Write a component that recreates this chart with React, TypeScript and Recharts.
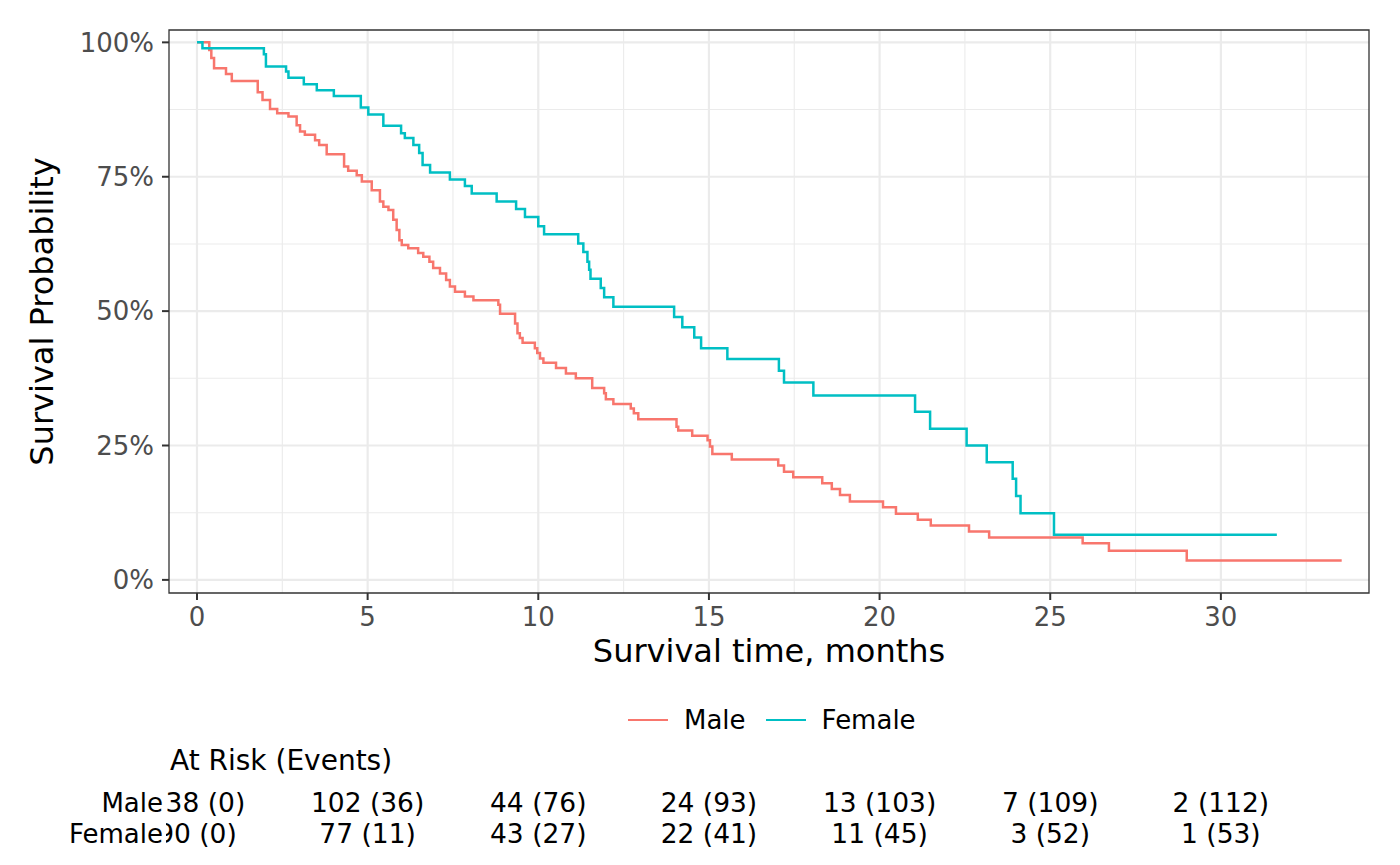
import React from "react";
import {
  LineChart,
  Line,
  XAxis,
  YAxis,
  CartesianGrid,
  Legend,
  ReferenceArea,
} from "recharts";

document.body.style.margin = "0";

const FONT = "'DejaVu Sans', sans-serif";
const MALE_COLOR = "#F8766D";
const FEMALE_COLOR = "#00BFC4";

// Kaplan-Meier steps: [months, survival %]
const maleSteps: [number, number][] = [
  [0, 100], [0.36, 98.6], [0.42, 97.1], [0.5, 95.2], [0.85, 94.1], [1.02, 92.8],
  [1.78, 90.7], [1.92, 89.3], [2.14, 87.6], [2.35, 86.8], [2.68, 86.2], [2.92, 84.6],
  [3.02, 83.4], [3.16, 82.8], [3.46, 81.8], [3.58, 80.9], [3.8, 79.2], [4.31, 76.9],
  [4.43, 76.1], [4.68, 75.3], [4.83, 74.1], [5.12, 72.5], [5.36, 70.4], [5.46, 69.4],
  [5.61, 68.8], [5.75, 67.0], [5.85, 65.1], [5.93, 63.2], [6.0, 62.3], [6.19, 61.7],
  [6.48, 60.8], [6.63, 60.1], [6.81, 59.2], [6.92, 58.0], [7.12, 57.0], [7.3, 55.8],
  [7.41, 54.6], [7.56, 53.6], [7.85, 52.7], [8.1, 52.0], [8.83, 51.2], [8.88, 49.5],
  [9.32, 47.7], [9.39, 45.9], [9.46, 45.0], [9.54, 44.1], [9.9, 43.1], [9.97, 42.2],
  [10.05, 41.2], [10.15, 40.4], [10.52, 39.4], [10.81, 38.4], [11.1, 37.5], [11.58, 35.7],
  [11.93, 34.7], [11.98, 33.6], [12.2, 32.7], [12.71, 31.9], [12.8, 31.0], [12.93, 29.9],
  [14.05, 28.5], [14.1, 27.8], [14.51, 26.8], [14.96, 26.0], [15.03, 24.8], [15.1, 23.4],
  [15.67, 22.4], [17.03, 21.3], [17.2, 20.1], [17.47, 19.1], [18.32, 18.0], [18.6, 16.9],
  [18.84, 15.8], [19.13, 14.6], [20.1, 13.5], [20.48, 12.3], [21.12, 11.2], [21.5, 10.1],
  [22.62, 9.0], [23.21, 7.9], [25.95, 6.8], [26.72, 5.4], [29.0, 3.6], [33.54, 3.6],
];

const femaleSteps: [number, number][] = [
  [0, 100], [0.16, 98.9], [1.96, 97.8], [2.02, 95.5], [2.61, 94.6], [2.68, 93.4],
  [3.13, 92.2], [3.51, 91.1], [4.01, 90.0], [4.8, 87.9], [5.02, 86.6], [5.46, 84.5],
  [5.98, 83.1], [6.09, 82.2], [6.34, 80.9], [6.51, 79.4], [6.61, 77.2], [6.83, 75.8],
  [7.41, 74.5], [7.85, 73.3], [8.05, 71.9], [8.78, 70.4], [9.35, 69.0], [9.61, 67.5],
  [10.0, 65.8], [10.17, 64.3], [11.17, 62.6], [11.32, 61.0], [11.44, 59.2], [11.49, 57.7],
  [11.53, 56.0], [11.83, 54.3], [11.93, 52.6], [12.2, 50.8], [13.98, 48.9], [14.22, 47.0],
  [14.57, 45.1], [14.77, 43.1], [15.54, 41.1], [17.05, 38.9], [17.2, 36.7], [18.06, 34.3],
  [21.04, 31.3], [21.48, 28.1], [22.55, 25.0], [23.14, 21.9], [23.9, 18.8], [24.0, 15.6],
  [24.13, 12.4], [25.11, 8.4], [31.64, 8.4],
];

const groups = ["Male", "Female"];

const xTicks = [0, 5, 10, 15, 20, 25, 30];
const xMinor = [2.5, 7.5, 12.5, 17.5, 22.5, 27.5, 32.5];
const yTicks = [0, 25, 50, 75, 100];
const yMinor = [12.5, 37.5, 62.5, 87.5];

const riskTimes = [0, 5, 10, 15, 20, 25, 30];
const maleRisk = ["138 (0)", "102 (36)", "44 (76)", "24 (93)", "13 (103)", "7 (109)", "2 (112)"];
const femaleRisk = ["90 (0)", "77 (11)", "43 (27)", "22 (41)", "11 (45)", "3 (52)", "1 (53)"];

const X_DOMAIN: [number, number] = [-0.82, 34.34];
const Y_DOMAIN: [number, number] = [-2.44, 102.3];

const malePoints = maleSteps.map(([t, s]) => ({ t, s }));
const femalePoints = femaleSteps.map(([t, s]) => ({ t, s }));

// risk table rows, clipped at the table's left edge like the original
const RiskTick = (props: any) => {
  const { x, y, payload, index } = props;
  const i = riskTimes.indexOf(payload.value);
  if (i < 0) return null;
  const id = `risk-clip-${index}`;
  return (
    <g>
      <defs>
        <clipPath id={id}>
          <rect x={166} y={y} width={1300} height={95} />
        </clipPath>
      </defs>
      <g clipPath={`url(#${id})`} fontFamily={FONT} fontSize={26.5} fill="#000">
        <text x={x} y={y + 39} textAnchor="middle">{maleRisk[i]}</text>
        <text x={x} y={y + 70} textAnchor="middle">{femaleRisk[i]}</text>
      </g>
    </g>
  );
};

const renderLegend = (props: any) => {
  const payload = [...(props.payload || [])].sort(
    (a: any, b: any) => groups.indexOf(a.value) - groups.indexOf(b.value)
  );
  return (
    <div
      style={{
        display: "flex",
        alignItems: "center",
        height: 34,
        fontFamily: FONT,
        fontSize: 26,
        color: "#000",
      }}
    >
      {payload.map((entry: any, i: number) => (
        <div
          key={entry.value}
          style={{ display: "flex", alignItems: "center", marginRight: i === 0 ? 20 : 0 }}
        >
          <span
            style={{
              display: "inline-block",
              width: 40,
              height: 2.4,
              background: entry.color,
              marginRight: 16,
            }}
          />
          <span>{entry.value}</span>
        </div>
      ))}
    </div>
  );
};

const App = () => {
  return (
    <div style={{ position: "relative", width: 1400, height: 865, background: "#fff" }}>
      <LineChart
        width={1400}
        height={865}
        margin={{ top: 30, right: 31, bottom: 2, left: 0 }}
      >
        <CartesianGrid
          stroke="#EBEBEB"
          strokeWidth={1.1}
          horizontalValues={yMinor}
          verticalValues={xMinor}
        />
        <CartesianGrid
          stroke="#EBEBEB"
          strokeWidth={2.2}
          horizontalValues={yTicks}
          verticalValues={xTicks}
        />
        <XAxis
          dataKey="t"
          type="number"
          domain={X_DOMAIN}
          allowDataOverflow
          ticks={xTicks}
          interval={0}
          height={180}
          axisLine={false}
          tickSize={7}
          tickMargin={8}
          tickLine={{ stroke: "#333333", strokeWidth: 2 }}
          tick={{ fill: "#4D4D4D", fontSize: 26, fontFamily: FONT }}
          label={{
            value: "Survival time, months",
            position: "insideTop",
            offset: 46,
            fill: "#000",
            fontSize: 32,
            fontFamily: FONT,
          }}
        />
        <XAxis
          xAxisId="risk"
          dataKey="t"
          type="number"
          domain={X_DOMAIN}
          allowDataOverflow
          ticks={riskTimes}
          interval={0}
          height={90}
          axisLine={false}
          tickLine={false}
          tickSize={0}
          tickMargin={0}
          tick={<RiskTick />}
        />
        <YAxis
          type="number"
          domain={Y_DOMAIN}
          allowDataOverflow
          ticks={yTicks}
          interval={0}
          width={169}
          axisLine={false}
          tickSize={7}
          tickMargin={8}
          tickLine={{ stroke: "#333333", strokeWidth: 2 }}
          tick={{ fill: "#4D4D4D", fontSize: 26, fontFamily: FONT }}
          tickFormatter={(v: number) => `${v}%`}
          label={{
            value: "Survival Probability",
            angle: -90,
            position: "insideLeft",
            offset: 42,
            fill: "#000",
            fontSize: 32,
            fontFamily: FONT,
            style: { textAnchor: "middle" },
          }}
        />
        <Line
          data={malePoints}
          dataKey="s"
          name="Male"
          type="stepAfter"
          stroke={MALE_COLOR}
          strokeWidth={2.5}
          dot={false}
          activeDot={false}
          isAnimationActive={false}
        />
        <Line
          data={femalePoints}
          dataKey="s"
          name="Female"
          type="stepAfter"
          stroke={FEMALE_COLOR}
          strokeWidth={2.5}
          dot={false}
          activeDot={false}
          isAnimationActive={false}
        />
        <ReferenceArea
          x1={X_DOMAIN[0]}
          x2={X_DOMAIN[1]}
          y1={Y_DOMAIN[0]}
          y2={Y_DOMAIN[1]}
          fill="none"
          stroke="#333333"
          strokeWidth={1.3}
          ifOverflow="visible"
        />
        <Legend
          layout="horizontal"
          verticalAlign="middle"
          align="center"
          content={renderLegend}
          wrapperStyle={{ top: 703, left: 628, width: 420, height: 34 }}
        />
      </LineChart>
      <svg
        width={1400}
        height={865}
        style={{ position: "absolute", left: 0, top: 0, pointerEvents: "none" }}
        fontFamily={FONT}
        fill="#000"
      >
        <text x={170} y={770} fontSize={28}>At Risk (Events)</text>
        <text x={163} y={812} fontSize={26} textAnchor="end">Male</text>
        <text x={163} y={843} fontSize={26} textAnchor="end">Female</text>
      </svg>
    </div>
  );
};

export default App;
